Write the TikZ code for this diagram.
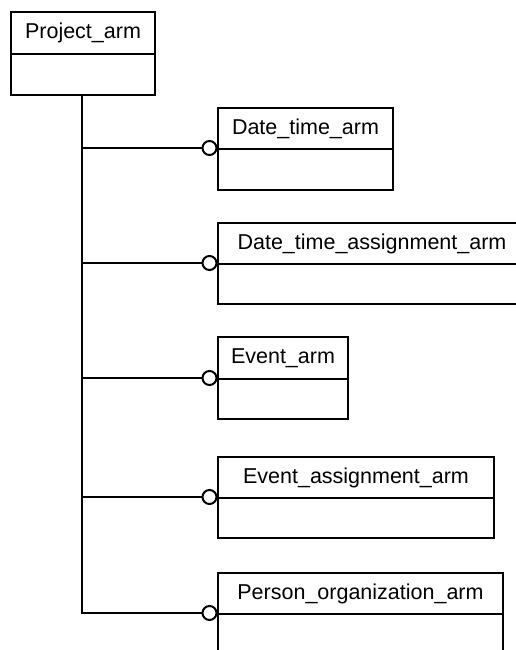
\documentclass[tikz,border=0pt]{standalone}
\usepackage{fontspec}
\setmainfont{Liberation Sans}
\begin{document}
\begin{tikzpicture}[x=1pt,y=-1pt,
  ln/.style={line width=2pt},
  boxpart/.style={draw,line width=2pt,inner sep=0pt,anchor=north west},
  ttl/.style={font=\fontsize{21.5}{25}\selectfont,inner sep=0pt},
  ring/.style={circle,draw,line width=2pt,fill=white,minimum size=14pt,inner sep=0pt}]
\useasboundingbox (0,0) rectangle (516,650);
\clip (0,0) rectangle (516,650);
% Project_arm
\node[boxpart,minimum width=144pt,minimum height=42pt] (pah) at (10,11) {};
\node[boxpart,minimum width=144pt,minimum height=41pt] (pab) at (10,53) {};
\node[ttl] (pat) at (pah.center) {Project\_arm};
% entity boxes: name, top, divider, bottom, right
\newcommand{\entbox}[6]{%
  \node[boxpart,minimum width=#5pt-217pt,minimum height=#3pt-#2pt] (#1h) at (217,#2) {};
  \node[boxpart,minimum width=#5pt-217pt,minimum height=#4pt-#3pt] (#1b) at (217,#3) {};
  \node[ttl] (#1t) at (#1h.center) {#6};
  \node[ring] (#1c) at (209.5,#3) {};
  \coordinate (#1j) at (82,#3);
}
\entbox{dt}{107}{148}{189}{392}{Date\_time\_arm}
\entbox{dta}{222}{263}{303}{525}{Date\_time\_assignment\_arm}
\entbox{ev}{336}{378}{418}{347}{Event\_arm}
\entbox{eva}{456}{497}{537}{493}{Event\_assignment\_arm}
\entbox{po}{572}{613}{670}{502}{Person\_organization\_arm}
% trunk
\draw[ln] (pab.south -| 82,0) -- (poj) -- (poc.west);
\draw[ln] (dtj) -- (dtc.west);
\draw[ln] (dtaj) -- (dtac.west);
\draw[ln] (evj) -- (evc.west);
\draw[ln] (evaj) -- (evac.west);
\end{tikzpicture}
\end{document}
